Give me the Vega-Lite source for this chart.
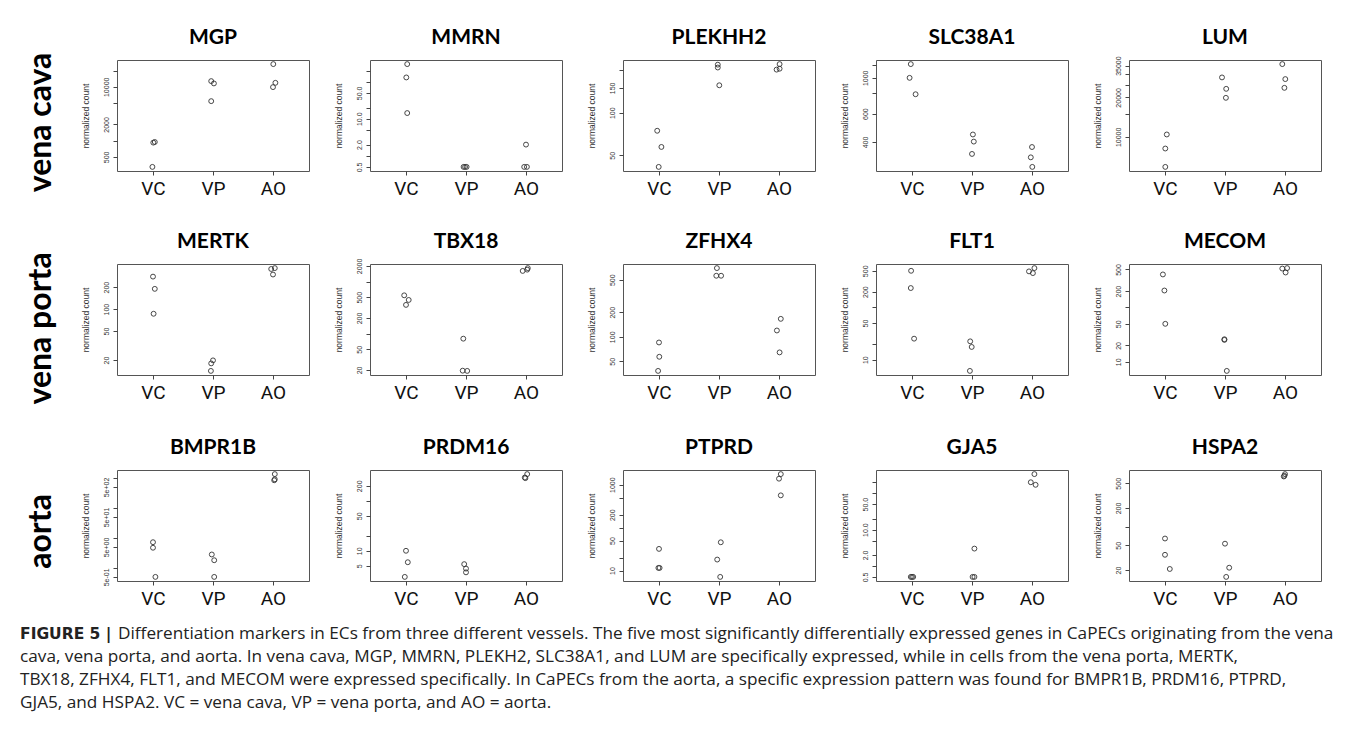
{
  "$schema": "https://vega.github.io/schema/vega-lite/v6.json",
  "background": "white",
  "padding": {"left": 20, "top": 26, "right": 5, "bottom": 5},
  "data": {"values": [
    {"g":"MGP","x":0.99,"v":326},{"g":"MGP","x":1.005,"v":920},{"g":"MGP","x":1.03,"v":945},
    {"g":"MGP","x":1.97,"v":12760},{"g":"MGP","x":2.015,"v":11560},{"g":"MGP","x":1.97,"v":5420},
    {"g":"MGP","x":3.005,"v":26400},{"g":"MGP","x":3.04,"v":11860},{"g":"MGP","x":3.0,"v":9870},
    {"g":"MMRN","x":1.02,"v":298},{"g":"MMRN","x":1.005,"v":130},{"g":"MMRN","x":1.02,"v":14.2},
    {"g":"MMRN","x":1.96,"v":0.5},{"g":"MMRN","x":1.985,"v":0.5},{"g":"MMRN","x":2.01,"v":0.5},
    {"g":"MMRN","x":3.0,"v":2.0},{"g":"MMRN","x":2.97,"v":0.5},{"g":"MMRN","x":3.015,"v":0.5},
    {"g":"PLEKHH2","x":0.97,"v":74.6},{"g":"PLEKHH2","x":1.04,"v":57.3},{"g":"PLEKHH2","x":0.995,"v":41.4},
    {"g":"PLEKHH2","x":1.98,"v":219},{"g":"PLEKHH2","x":1.98,"v":209},{"g":"PLEKHH2","x":2.005,"v":156.5},
    {"g":"PLEKHH2","x":3.01,"v":221},{"g":"PLEKHH2","x":2.96,"v":202},{"g":"PLEKHH2","x":3.01,"v":205},
    {"g":"SLC38A1","x":0.98,"v":1217},{"g":"SLC38A1","x":0.96,"v":1000},{"g":"SLC38A1","x":1.06,"v":791},
    {"g":"SLC38A1","x":2.015,"v":445},{"g":"SLC38A1","x":2.03,"v":402},{"g":"SLC38A1","x":2.0,"v":337},
    {"g":"SLC38A1","x":3.0,"v":372},{"g":"SLC38A1","x":2.98,"v":321},{"g":"SLC38A1","x":3.005,"v":280},
    {"g":"LUM","x":1.03,"v":10430},{"g":"LUM","x":1.005,"v":8150},{"g":"LUM","x":1.005,"v":5900},
    {"g":"LUM","x":1.95,"v":28420},{"g":"LUM","x":2.02,"v":23260},{"g":"LUM","x":2.015,"v":19860},
    {"g":"LUM","x":2.955,"v":35920},{"g":"LUM","x":3.005,"v":27600},{"g":"LUM","x":2.99,"v":23670},
    {"g":"MERTK","x":1.0,"v":279},{"g":"MERTK","x":1.03,"v":189.5},{"g":"MERTK","x":1.01,"v":86.3},
    {"g":"MERTK","x":2.0,"v":19.8},{"g":"MERTK","x":1.97,"v":18},{"g":"MERTK","x":1.965,"v":14.2},
    {"g":"MERTK","x":2.97,"v":355},{"g":"MERTK","x":3.03,"v":365},{"g":"MERTK","x":3.0,"v":298},
    {"g":"TBX18","x":0.97,"v":545},{"g":"TBX18","x":1.045,"v":444},{"g":"TBX18","x":1.0,"v":357},
    {"g":"TBX18","x":1.955,"v":80},{"g":"TBX18","x":1.945,"v":19.4},{"g":"TBX18","x":2.02,"v":19.2},
    {"g":"TBX18","x":2.945,"v":1606},{"g":"TBX18","x":3.02,"v":1700},{"g":"TBX18","x":3.03,"v":1820},
    {"g":"ZFHX4","x":1.0,"v":85.2},{"g":"ZFHX4","x":1.005,"v":56.9},{"g":"ZFHX4","x":0.985,"v":38.2},
    {"g":"ZFHX4","x":1.965,"v":695},{"g":"ZFHX4","x":1.955,"v":560},{"g":"ZFHX4","x":2.035,"v":560},
    {"g":"ZFHX4","x":3.03,"v":166},{"g":"ZFHX4","x":2.965,"v":119.5},{"g":"ZFHX4","x":3.01,"v":64.4},
    {"g":"FLT1","x":0.985,"v":500},{"g":"FLT1","x":0.98,"v":234},{"g":"FLT1","x":1.035,"v":25.2},
    {"g":"FLT1","x":1.97,"v":22.4},{"g":"FLT1","x":1.995,"v":17.5},{"g":"FLT1","x":1.965,"v":6.1},
    {"g":"FLT1","x":2.95,"v":487},{"g":"FLT1","x":3.04,"v":563},{"g":"FLT1","x":3.015,"v":452},
    {"g":"MECOM","x":0.965,"v":405},{"g":"MECOM","x":0.99,"v":205},{"g":"MECOM","x":1.005,"v":50},
    {"g":"MECOM","x":1.99,"v":26},{"g":"MECOM","x":1.99,"v":25.3},{"g":"MECOM","x":2.03,"v":6.8},
    {"g":"MECOM","x":2.955,"v":520},{"g":"MECOM","x":3.035,"v":530},{"g":"MECOM","x":3.01,"v":440},
    {"g":"BMPR1B","x":1.0,"v":7.2},{"g":"BMPR1B","x":1.0,"v":4.7},{"g":"BMPR1B","x":1.04,"v":0.5},
    {"g":"BMPR1B","x":1.98,"v":2.8},{"g":"BMPR1B","x":2.02,"v":1.8},{"g":"BMPR1B","x":2.02,"v":0.5},
    {"g":"BMPR1B","x":3.03,"v":1350},{"g":"BMPR1B","x":3.03,"v":906},{"g":"BMPR1B","x":3.02,"v":840},
    {"g":"PRDM16","x":1.0,"v":10},{"g":"PRDM16","x":1.03,"v":5.9},{"g":"PRDM16","x":0.98,"v":3.0},
    {"g":"PRDM16","x":1.97,"v":5.4},{"g":"PRDM16","x":2.0,"v":4.4},{"g":"PRDM16","x":2.0,"v":3.7},
    {"g":"PRDM16","x":2.98,"v":293},{"g":"PRDM16","x":3.02,"v":343},{"g":"PRDM16","x":2.99,"v":285},
    {"g":"PTPRD","x":1.0,"v":31.9},{"g":"PTPRD","x":0.99,"v":11.5},{"g":"PTPRD","x":1.01,"v":11.5},
    {"g":"PTPRD","x":2.03,"v":45.5},{"g":"PTPRD","x":1.97,"v":18},{"g":"PTPRD","x":2.02,"v":7.1},
    {"g":"PTPRD","x":3.03,"v":1764},{"g":"PTPRD","x":3.0,"v":1379},{"g":"PTPRD","x":3.03,"v":564},
    {"g":"GJA5","x":0.98,"v":0.5},{"g":"GJA5","x":1.0,"v":0.5},{"g":"GJA5","x":1.02,"v":0.5},
    {"g":"GJA5","x":2.04,"v":3.0},{"g":"GJA5","x":2.01,"v":0.5},{"g":"GJA5","x":2.04,"v":0.5},
    {"g":"GJA5","x":3.04,"v":335},{"g":"GJA5","x":2.98,"v":200},{"g":"GJA5","x":3.06,"v":170},
    {"g":"HSPA2","x":1.0,"v":64.4},{"g":"HSPA2","x":1.0,"v":35.2},{"g":"HSPA2","x":1.08,"v":20.8},
    {"g":"HSPA2","x":2.0,"v":53.2},{"g":"HSPA2","x":2.07,"v":21.8},{"g":"HSPA2","x":2.02,"v":15.5},
    {"g":"HSPA2","x":3.0,"v":703},{"g":"HSPA2","x":2.98,"v":644},{"g":"HSPA2","x":2.99,"v":660}
  ]},
  "config": {
    "view": {"stroke": "#555", "strokeWidth": 1},
    "point": {"shape": "circle", "filled": false, "stroke": "#333", "strokeWidth": 0.9, "size": 24, "opacity": 1},
    "axis": {"grid": false, "domain": false, "ticks": true, "tickSize": 4, "tickColor": "#444", "tickWidth": 1, "labelOverlap": false, "labelFlush": false},
    "axisX": {"labelFont": "Roboto", "labelFontSize": 19, "labelColor": "#111", "labelPadding": 4, "labelAngle": 0},
    "axisY": {"labelFont": "Liberation Sans", "labelFontSize": 7, "labelColor": "#333", "labelAngle": -90, "labelAlign": "center", "labelBaseline": "bottom", "labelPadding": 4, "titleFont": "Liberation Sans", "titleFontSize": 8.5, "titleFontWeight": "normal", "titleColor": "#333", "titlePadding": 12},
    "title": {"font": "Lato", "fontSize": 21, "fontWeight": "bold", "color": "#000", "frame": "group", "offset": 12}
  },
  "columns": 1,
  "align": "none",
  "spacing": 13,
  "concat": [
    {
      "spacing": 31,
      "vconcat": [
        {
          "title": {"text": "vena cava", "orient": "left", "anchor": "middle", "font": "Lato", "fontSize": 32, "fontWeight": "bold", "frame": "bounds", "offset": 23, "dx": -10},
          "spacing": 23,
          "hconcat": [
            {"width": 192, "height": 111, "title": "MGP", "transform": [{"filter": "datum.g == 'MGP'"}], "mark": "point",
             "encoding": {"x": {"field": "x", "type": "quantitative", "scale": {"domain": [0.4, 3.6], "nice": false, "zero": false}, "axis": {"values": [1, 2, 3], "labelExpr": "datum.value == 1 ? 'VC' : datum.value == 2 ? 'VP' : 'AO'", "title": null}},
                          "y": {"field": "v", "type": "quantitative", "scale": {"type": "log", "padding": 4.1, "nice": false, "zero": false}, "axis": {"title": "normalized count", "values": [500, 1000, 2000, 5000, 10000, 20000], "labelExpr": "indexof([500, 2000, 10000], datum.value) >= 0 ? '' + datum.value : ''"}}}},
            {"width": 192, "height": 111, "title": "MMRN", "transform": [{"filter": "datum.g == 'MMRN'"}], "mark": "point",
             "encoding": {"x": {"field": "x", "type": "quantitative", "scale": {"domain": [0.4, 3.6], "nice": false, "zero": false}, "axis": {"values": [1, 2, 3], "labelExpr": "datum.value == 1 ? 'VC' : datum.value == 2 ? 'VP' : 'AO'", "title": null}},
                          "y": {"field": "v", "type": "quantitative", "scale": {"type": "log", "padding": 4.1, "nice": false, "zero": false}, "axis": {"title": "normalized count", "values": [0.5, 1, 2, 5, 10, 20, 50, 100, 200], "labelExpr": "datum.value == 0.5 ? '0.5' : datum.value == 2 ? '2.0' : datum.value == 10 ? '10.0' : datum.value == 50 ? '50.0' : ''"}}}},
            {"width": 192, "height": 111, "title": "PLEKHH2", "transform": [{"filter": "datum.g == 'PLEKHH2'"}], "mark": "point",
             "encoding": {"x": {"field": "x", "type": "quantitative", "scale": {"domain": [0.4, 3.6], "nice": false, "zero": false}, "axis": {"values": [1, 2, 3], "labelExpr": "datum.value == 1 ? 'VC' : datum.value == 2 ? 'VP' : 'AO'", "title": null}},
                          "y": {"field": "v", "type": "quantitative", "scale": {"type": "log", "padding": 4.1, "nice": false, "zero": false}, "axis": {"title": "normalized count", "values": [50, 100, 150, 200], "labelExpr": "indexof([50, 100, 150], datum.value) >= 0 ? '' + datum.value : ''"}}}},
            {"width": 192, "height": 111, "title": "SLC38A1", "transform": [{"filter": "datum.g == 'SLC38A1'"}], "mark": "point",
             "encoding": {"x": {"field": "x", "type": "quantitative", "scale": {"domain": [0.4, 3.6], "nice": false, "zero": false}, "axis": {"values": [1, 2, 3], "labelExpr": "datum.value == 1 ? 'VC' : datum.value == 2 ? 'VP' : 'AO'", "title": null}},
                          "y": {"field": "v", "type": "quantitative", "scale": {"type": "log", "padding": 4.1, "nice": false, "zero": false}, "axis": {"title": "normalized count", "values": [400, 600, 800, 1000, 1200], "labelExpr": "indexof([400, 600, 1000], datum.value) >= 0 ? '' + datum.value : ''"}}}},
            {"width": 192, "height": 111, "title": {"text": "LUM", "offset": 7.9}, "transform": [{"filter": "datum.g == 'LUM'"}], "mark": "point",
             "encoding": {"x": {"field": "x", "type": "quantitative", "scale": {"domain": [0.4, 3.6], "nice": false, "zero": false}, "axis": {"values": [1, 2, 3], "labelExpr": "datum.value == 1 ? 'VC' : datum.value == 2 ? 'VP' : 'AO'", "title": null}},
                          "y": {"field": "v", "type": "quantitative", "scale": {"type": "log", "padding": 4.1, "nice": false, "zero": false}, "axis": {"title": "normalized count", "values": [10000, 15000, 20000, 25000, 30000, 35000], "labelExpr": "indexof([10000, 20000, 35000], datum.value) >= 0 ? '' + datum.value : ''"}}}}
          ]
        },
        {
          "title": {"text": "vena porta", "orient": "left", "anchor": "middle", "font": "Lato", "fontSize": 32, "fontWeight": "bold", "frame": "bounds", "offset": 23, "dx": -12},
          "spacing": 23,
          "hconcat": [
            {"width": 192, "height": 111, "title": "MERTK", "transform": [{"filter": "datum.g == 'MERTK'"}], "mark": "point",
             "encoding": {"x": {"field": "x", "type": "quantitative", "scale": {"domain": [0.4, 3.6], "nice": false, "zero": false}, "axis": {"values": [1, 2, 3], "labelExpr": "datum.value == 1 ? 'VC' : datum.value == 2 ? 'VP' : 'AO'", "title": null}},
                          "y": {"field": "v", "type": "quantitative", "scale": {"type": "log", "padding": 4.1, "nice": false, "zero": false}, "axis": {"title": "normalized count", "values": [10, 20, 50, 100, 200, 500], "labelExpr": "'' + datum.value"}}}},
            {"width": 192, "height": 111, "title": {"text": "TBX18", "offset": 6.2}, "transform": [{"filter": "datum.g == 'TBX18'"}], "mark": "point",
             "encoding": {"x": {"field": "x", "type": "quantitative", "scale": {"domain": [0.4, 3.6], "nice": false, "zero": false}, "axis": {"values": [1, 2, 3], "labelExpr": "datum.value == 1 ? 'VC' : datum.value == 2 ? 'VP' : 'AO'", "title": null}},
                          "y": {"field": "v", "type": "quantitative", "scale": {"type": "log", "padding": 4.1, "nice": false, "zero": false}, "axis": {"title": "normalized count", "values": [20, 50, 100, 200, 500, 1000, 2000], "labelExpr": "indexof([20, 50, 200, 500, 2000], datum.value) >= 0 ? '' + datum.value : ''"}}}},
            {"width": 192, "height": 111, "title": "ZFHX4", "transform": [{"filter": "datum.g == 'ZFHX4'"}], "mark": "point",
             "encoding": {"x": {"field": "x", "type": "quantitative", "scale": {"domain": [0.4, 3.6], "nice": false, "zero": false}, "axis": {"values": [1, 2, 3], "labelExpr": "datum.value == 1 ? 'VC' : datum.value == 2 ? 'VP' : 'AO'", "title": null}},
                          "y": {"field": "v", "type": "quantitative", "scale": {"type": "log", "padding": 4.1, "nice": false, "zero": false}, "axis": {"title": "normalized count", "values": [20, 50, 100, 200, 500, 1000], "labelExpr": "'' + datum.value"}}}},
            {"width": 192, "height": 111, "title": "FLT1", "transform": [{"filter": "datum.g == 'FLT1'"}], "mark": "point",
             "encoding": {"x": {"field": "x", "type": "quantitative", "scale": {"domain": [0.4, 3.6], "nice": false, "zero": false}, "axis": {"values": [1, 2, 3], "labelExpr": "datum.value == 1 ? 'VC' : datum.value == 2 ? 'VP' : 'AO'", "title": null}},
                          "y": {"field": "v", "type": "quantitative", "scale": {"type": "log", "padding": 4.1, "nice": false, "zero": false}, "axis": {"title": "normalized count", "values": [5, 10, 20, 50, 100, 200, 500], "labelExpr": "indexof([10, 50, 200, 500], datum.value) >= 0 ? '' + datum.value : ''"}}}},
            {"width": 192, "height": 111, "title": "MECOM", "transform": [{"filter": "datum.g == 'MECOM'"}], "mark": "point",
             "encoding": {"x": {"field": "x", "type": "quantitative", "scale": {"domain": [0.4, 3.6], "nice": false, "zero": false}, "axis": {"values": [1, 2, 3], "labelExpr": "datum.value == 1 ? 'VC' : datum.value == 2 ? 'VP' : 'AO'", "title": null}},
                          "y": {"field": "v", "type": "quantitative", "scale": {"type": "log", "padding": 4.1, "nice": false, "zero": false}, "axis": {"title": "normalized count", "values": [5, 10, 20, 50, 100, 200, 500], "labelExpr": "indexof([10, 20, 50, 200, 500], datum.value) >= 0 ? '' + datum.value : ''"}}}}
          ]
        },
        {
          "title": {"text": "aorta", "orient": "left", "anchor": "middle", "font": "Lato", "fontSize": 32, "fontWeight": "bold", "frame": "bounds", "offset": 23, "dx": -9},
          "spacing": 23,
          "hconcat": [
            {"width": 192, "height": 111, "title": "BMPR1B", "transform": [{"filter": "datum.g == 'BMPR1B'"}], "mark": "point",
             "encoding": {"x": {"field": "x", "type": "quantitative", "scale": {"domain": [0.4, 3.6], "nice": false, "zero": false}, "axis": {"values": [1, 2, 3], "labelExpr": "datum.value == 1 ? 'VC' : datum.value == 2 ? 'VP' : 'AO'", "title": null}},
                          "y": {"field": "v", "type": "quantitative", "scale": {"type": "log", "padding": 4.1, "nice": false, "zero": false}, "axis": {"title": "normalized count", "values": [0.5, 1, 5, 10, 50, 100, 500, 1000], "labelExpr": "datum.value == 0.5 ? '5e-01' : datum.value == 5 ? '5e+00' : datum.value == 50 ? '5e+01' : datum.value == 500 ? '5e+02' : ''"}}}},
            {"width": 192, "height": 111, "title": "PRDM16", "transform": [{"filter": "datum.g == 'PRDM16'"}], "mark": "point",
             "encoding": {"x": {"field": "x", "type": "quantitative", "scale": {"domain": [0.4, 3.6], "nice": false, "zero": false}, "axis": {"values": [1, 2, 3], "labelExpr": "datum.value == 1 ? 'VC' : datum.value == 2 ? 'VP' : 'AO'", "title": null}},
                          "y": {"field": "v", "type": "quantitative", "scale": {"type": "log", "padding": 4.1, "nice": false, "zero": false}, "axis": {"title": "normalized count", "values": [5, 10, 20, 50, 100, 200], "labelExpr": "indexof([5, 10, 50, 200], datum.value) >= 0 ? '' + datum.value : ''"}}}},
            {"width": 192, "height": 111, "title": "PTPRD", "transform": [{"filter": "datum.g == 'PTPRD'"}], "mark": "point",
             "encoding": {"x": {"field": "x", "type": "quantitative", "scale": {"domain": [0.4, 3.6], "nice": false, "zero": false}, "axis": {"values": [1, 2, 3], "labelExpr": "datum.value == 1 ? 'VC' : datum.value == 2 ? 'VP' : 'AO'", "title": null}},
                          "y": {"field": "v", "type": "quantitative", "scale": {"type": "log", "padding": 4.1, "nice": false, "zero": false}, "axis": {"title": "normalized count", "values": [10, 20, 50, 100, 200, 500, 1000], "labelExpr": "indexof([10, 50, 200, 1000], datum.value) >= 0 ? '' + datum.value : ''"}}}},
            {"width": 192, "height": 111, "title": "GJA5", "transform": [{"filter": "datum.g == 'GJA5'"}], "mark": "point",
             "encoding": {"x": {"field": "x", "type": "quantitative", "scale": {"domain": [0.4, 3.6], "nice": false, "zero": false}, "axis": {"values": [1, 2, 3], "labelExpr": "datum.value == 1 ? 'VC' : datum.value == 2 ? 'VP' : 'AO'", "title": null}},
                          "y": {"field": "v", "type": "quantitative", "scale": {"type": "log", "padding": 4.1, "nice": false, "zero": false}, "axis": {"title": "normalized count", "values": [0.5, 1, 2, 5, 10, 20, 50, 100, 200], "labelExpr": "datum.value == 0.5 ? '0.5' : datum.value == 2 ? '2.0' : datum.value == 10 ? '10.0' : datum.value == 50 ? '50.0' : ''"}}}},
            {"width": 192, "height": 111, "title": "HSPA2", "transform": [{"filter": "datum.g == 'HSPA2'"}], "mark": "point",
             "encoding": {"x": {"field": "x", "type": "quantitative", "scale": {"domain": [0.4, 3.6], "nice": false, "zero": false}, "axis": {"values": [1, 2, 3], "labelExpr": "datum.value == 1 ? 'VC' : datum.value == 2 ? 'VP' : 'AO'", "title": null}},
                          "y": {"field": "v", "type": "quantitative", "scale": {"type": "log", "padding": 4.1, "nice": false, "zero": false}, "axis": {"title": "normalized count", "values": [20, 50, 100, 200, 500], "labelExpr": "indexof([20, 50, 200, 500], datum.value) >= 0 ? '' + datum.value : ''"}}}}
          ]
        }
      ]
    },
    {
      "width": 1200, "height": 92,
      "view": {"stroke": null},
      "data": {"values": [
        {"line": 1, "part": "b", "text": "FIGURE 5 |"},
        {"line": 1, "part": "r", "text": "Differentiation markers in ECs from three different vessels. The five most significantly differentially expressed genes in CaPECs originating from the vena"},
        {"line": 2, "part": "n", "text": "cava, vena porta, and aorta. In vena cava, MGP, MMRN, PLEKH2, SLC38A1, and LUM are specifically expressed, while in cells from the vena porta, MERTK,"},
        {"line": 3, "part": "n", "text": "TBX18, ZFHX4, FLT1, and MECOM were expressed specifically. In CaPECs from the aorta, a specific expression pattern was found for BMPR1B, PRDM16, PTPRD,"},
        {"line": 4, "part": "n", "text": "GJA5, and HSPA2. VC = vena cava, VP = vena porta, and AO = aorta."}
      ]},
      "encoding": {
        "x": {"datum": 0, "type": "quantitative", "scale": {"domain": [0.0808, 1.0808]}, "axis": null},
        "y": {"field": "line", "type": "ordinal", "axis": null},
        "text": {"field": "text"}
      },
      "layer": [
        {"transform": [{"filter": "datum.part == 'b'"}], "mark": {"type": "text", "align": "left", "baseline": "middle", "font": "DejaVu Sans", "fontSize": 15.5, "fontWeight": "bold", "color": "#222"}},
        {"transform": [{"filter": "datum.part == 'r'"}], "mark": {"type": "text", "align": "left", "baseline": "middle", "font": "Open Sans", "fontSize": 17.2, "color": "#222", "dx": 98}},
        {"transform": [{"filter": "datum.part == 'n'"}], "mark": {"type": "text", "align": "left", "baseline": "middle", "font": "Open Sans", "fontSize": 17.2, "color": "#222"}}
      ]
    }
  ]
}
